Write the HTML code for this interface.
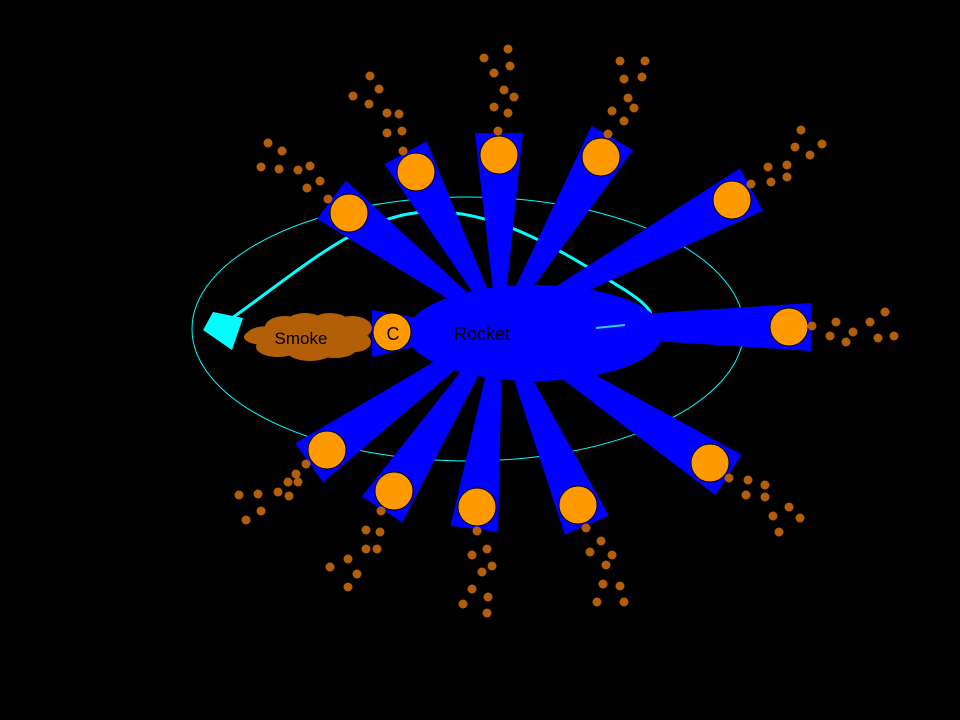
<!DOCTYPE html>
<html><head><meta charset="utf-8"><style>html,body{margin:0;padding:0;background:#000;width:960px;height:720px;overflow:hidden}</style></head>
<body>
<svg width="960" height="720" viewBox="0 0 960 720" xmlns="http://www.w3.org/2000/svg">
<rect width="960" height="720" fill="#000"/>
<ellipse cx="468" cy="329" rx="276" ry="132" fill="none" stroke="#00ffff" stroke-width="1"/>
<path d="M232 318 C300 270 360 215 425 212 C495 208 560 250 625 290 Q668 318 640 323 L596 327" fill="none" stroke="#00ffff" stroke-width="3"/>
<g fill="#0000ff" id="beams"></g>
<ellipse cx="535" cy="333" rx="128" ry="48" fill="#0000ff"/>
<path d="M596 328 L625 325" stroke="#33ccff" stroke-width="2"/>
<polygon points="203,330 213,312 243,318 232,350" fill="#00ffff"/>
<g fill="#b35f0a">
<ellipse cx="268" cy="336" rx="22" ry="10"/><ellipse cx="285" cy="327" rx="20" ry="11"/><ellipse cx="305" cy="324" rx="20" ry="11"/><ellipse cx="330" cy="324" rx="20" ry="11"/>
<ellipse cx="352" cy="328" rx="20" ry="12"/><ellipse cx="355" cy="342" rx="16" ry="10"/><ellipse cx="335" cy="348" rx="22" ry="10"/><ellipse cx="310" cy="350" rx="24" ry="11"/>
<ellipse cx="278" cy="347" rx="22" ry="10"/><ellipse cx="258" cy="337" rx="14" ry="7"/><ellipse cx="310" cy="337" rx="50" ry="16"/>
</g>
<polygon points="372,310 418,318 418,346 372,357" fill="#0000ff"/>
<circle cx="392" cy="332" r="19" fill="#ff9900" stroke="#000" stroke-width="1"/>
<text x="393" y="340" font-family="Liberation Sans, sans-serif" font-size="18" text-anchor="middle" fill="#000">C</text>
<text x="301" y="344" font-family="Liberation Sans, sans-serif" font-size="17" text-anchor="middle" fill="#000">Smoke</text>
<text x="482" y="340" font-family="Liberation Sans, sans-serif" font-size="18" text-anchor="middle" fill="#000">Rocket</text>
<g id="circles"></g>
<g fill="#b35f0a" id="dots"></g>
</svg>
<script>
var NS="http://www.w3.org/2000/svg";
var C=[[349,213],[416,172],[499,155],[601,157],[732,200],[789,327],[710,463],[578,505],[477,507],[394,491],[327,450]];
var cx=500,cy=327,b=document.getElementById('beams'),cg=document.getElementById('circles');
C.forEach(function(p){
 var dx=p[0]-cx,dy=p[1]-cy,L=Math.hypot(dx,dy),ux=dx/L,uy=dy/L,nx=-uy,ny=ux;
 var r0=30,r1=L+22,w0=6,w1=24;
 var pts=[[cx+ux*r0+nx*w0,cy+uy*r0+ny*w0],[cx+ux*r1+nx*w1,cy+uy*r1+ny*w1],[cx+ux*r1-nx*w1,cy+uy*r1-ny*w1],[cx+ux*r0-nx*w0,cy+uy*r0-ny*w0]];
 var pg=document.createElementNS(NS,'polygon');pg.setAttribute('points',pts.map(function(q){return q[0].toFixed(1)+','+q[1].toFixed(1)}).join(' '));b.appendChild(pg);
 var c=document.createElementNS(NS,'circle');c.setAttribute('cx',p[0]);c.setAttribute('cy',p[1]);c.setAttribute('r',19);c.setAttribute('fill','#ff9900');c.setAttribute('stroke','#000');cg.appendChild(c);
});
var D=[[268,143],[282,151],[261,167],[279,169],[298,170],[310,166],[320,181],[307,188],[328,199],
[370,76],[379,89],[353,96],[369,104],[387,113],[399,114],[387,133],[402,131],[403,151],
[484,58],[508,49],[510,66],[494,73],[504,90],[514,97],[494,107],[508,113],[498,131],
[620,61],[645,61],[624,79],[642,77],[628,98],[634,108],[612,111],[624,121],[608,134],
[801,130],[822,144],[795,147],[810,155],[768,167],[787,165],[771,182],[787,177],[751,184],
[812,326],[836,322],[853,332],[830,336],[846,342],[870,322],[885,312],[878,338],[894,336],
[729,478],[748,480],[765,485],[746,495],[765,497],[773,516],[789,507],[800,518],[779,532],
[586,528],[601,541],[590,552],[612,555],[606,565],[603,584],[620,586],[597,602],[624,602],
[477,531],[487,549],[472,555],[492,566],[482,572],[472,589],[488,597],[463,604],[487,613],
[381,511],[366,530],[380,532],[366,549],[377,549],[348,559],[330,567],[357,574],[348,587],
[306,464],[296,474],[288,482],[298,482],[278,492],[289,496],[258,494],[239,495],[261,511],[246,520]];
var dg=document.getElementById('dots');
D.forEach(function(p){var c=document.createElementNS(NS,'circle');c.setAttribute('cx',p[0]);c.setAttribute('cy',p[1]);c.setAttribute('r',4.5);dg.appendChild(c);});
</script>
</body></html>
